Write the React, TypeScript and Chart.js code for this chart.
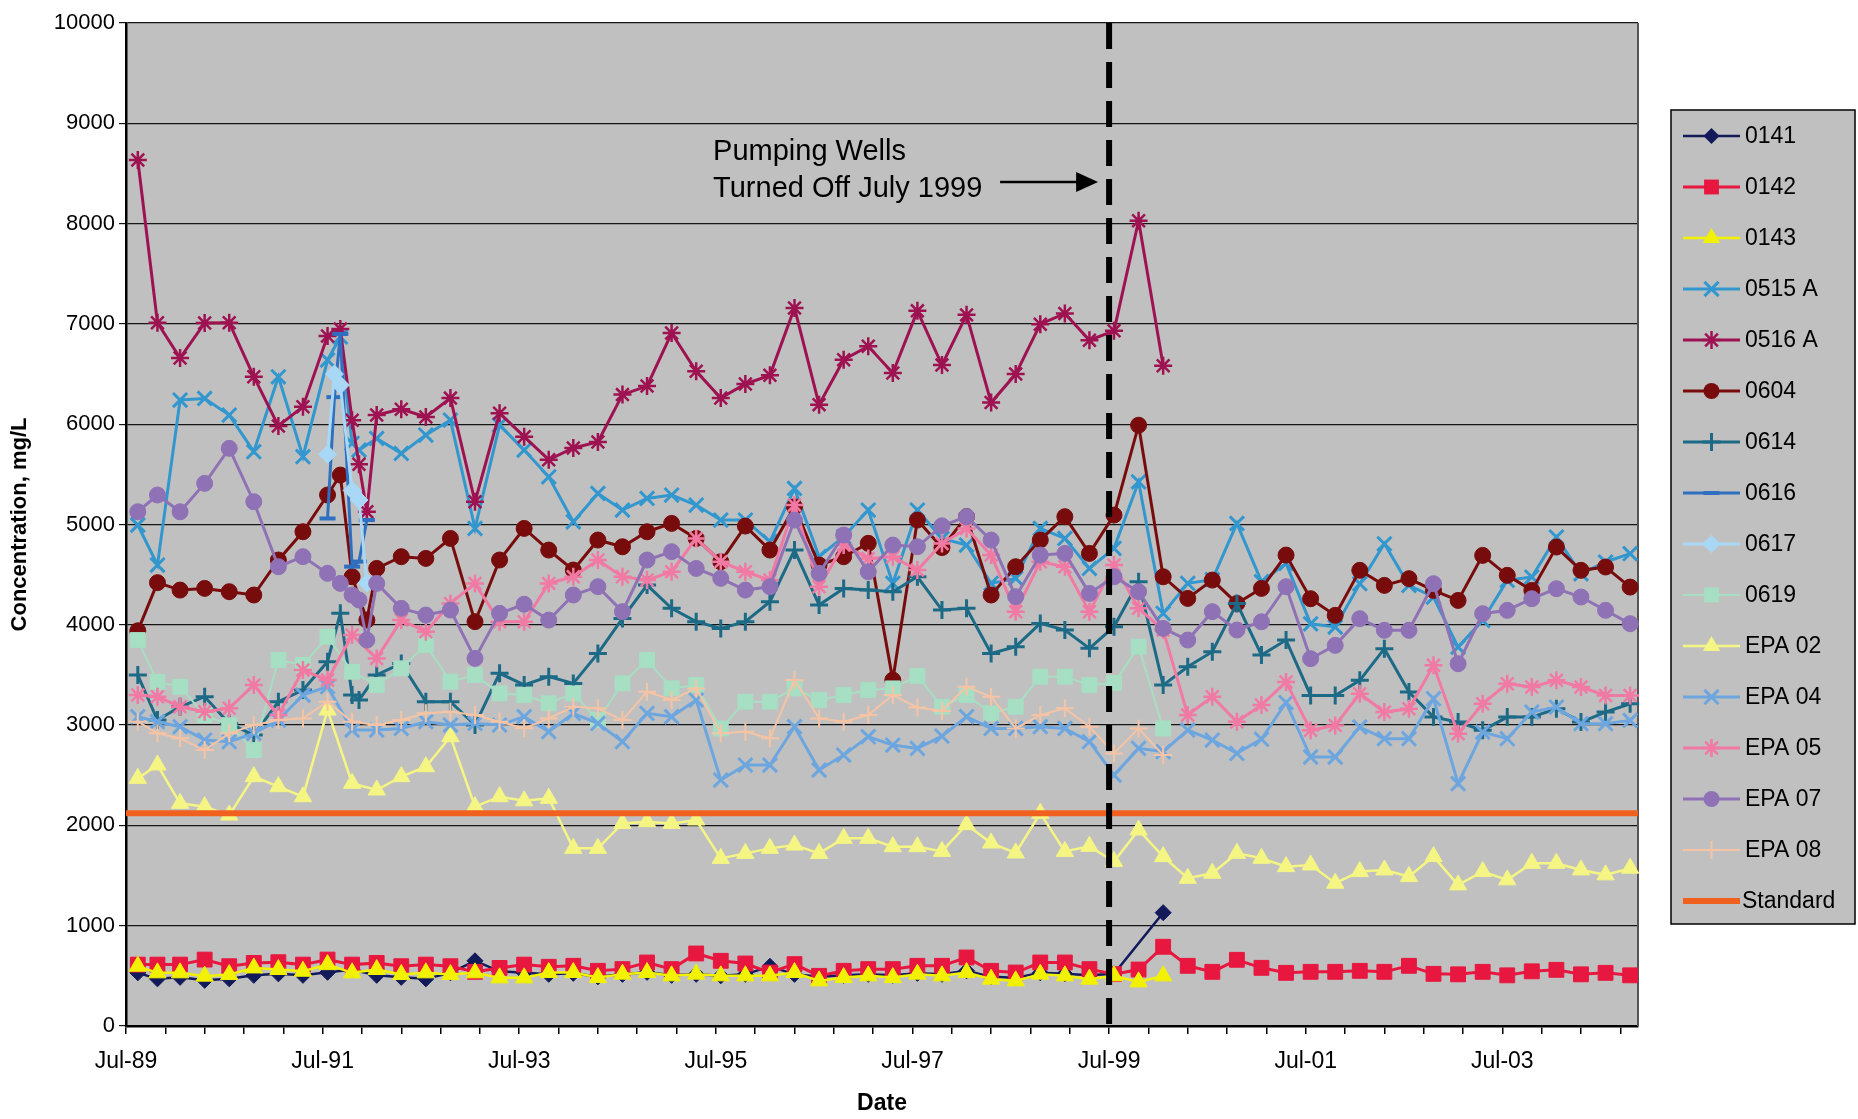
import React, { useEffect, useRef } from 'react';
import { Chart, registerables } from 'chart.js';

Chart.register(...registerables);

const _ = null;

// Sampling dates (decimal years); extra samples in the second half of 1991.
const dates = [
  1989.62, 1989.82, 1990.05, 1990.3, 1990.55, 1990.8, 1991.05, 1991.3,
  1991.55, 1991.62, 1991.68, 1991.8, 1991.87, 1991.95,
  1992.05, 1992.3, 1992.55, 1992.8,
  1993.05, 1993.3, 1993.55, 1993.8,
  1994.05, 1994.3, 1994.55, 1994.8,
  1995.05, 1995.3, 1995.55, 1995.8,
  1996.05, 1996.3, 1996.55, 1996.8,
  1997.05, 1997.3, 1997.55, 1997.8,
  1998.05, 1998.3, 1998.55, 1998.8,
  1999.05, 1999.3, 1999.55, 1999.8,
  2000.05, 2000.3, 2000.55, 2000.8,
  2001.05, 2001.3, 2001.55, 2001.8,
  2002.05, 2002.3, 2002.55, 2002.8,
  2003.05, 2003.3, 2003.55, 2003.8,
  2004.05, 2004.3, 2004.55, 2004.8,
];

const s0141 = [
  530, 470, 485, 455, 470, 505, 520, 505,
  535, _, _, 560, _, _,
  505, 485, 470, 530,
  650, 545, 530, 515,
  525, 490, 515, 535,
  505, 515, 500, 515,
  595, 515, 490, 505,
  515, 505, 525, 515,
  550, 490, 480, 530,
  520, 505, 520, _,
  1130, _, _, _,
  _, _, _, _,
  _, _, _, _,
  _, _, _, _,
  _, _, _, _,
];

const s0142 = [
  612, 612, 612, 662, 596, 629, 636, 612,
  662, _, _, 612, _, _,
  629, 596, 612, 596,
  540, 579, 612, 590,
  600, 550, 567, 633,
  567, 723, 650, 623,
  533, 617, 500, 550,
  567, 567, 600, 600,
  683, 550, 533, 633,
  633, 567, 517, 563,
  790, 600, 540, 660,
  580, 530, 540, 540,
  550, 540, 600, 520,
  515, 540, 505, 545,
  560, 515, 530, 505,
];

const s0143 = [
  596, 530, 530, 497, 513, 579, 563, 546,
  612, _, _, 530, _, _,
  563, 513, 530, 513,
  530, 480, 480, 533,
  533, 483, 517, 533,
  500, 517, 500, 500,
  500, 533, 450, 483,
  500, 483, 517, 500,
  533, 467, 450, 517,
  500, 467, 500, 440,
  500, _, _, _,
  _, _, _, _,
  _, _, _, _,
  _, _, _, _,
  _, _, _, _,
];

const s0515A = [
  4995, 4596, 6241, 6257, 6091, 5726, 6473, 5676,
  6640, _, 6870, 5809, 5742, _,
  5858, 5709, 5892, 6041,
  4961, 5991, 5742, 5476,
  5027, 5310, 5144, 5260,
  5294, 5194, 5044, 5044,
  4828, 5360, 4679, 4878,
  5144, 4413, 5144, 4860,
  4795, 4413, 4463, 4961,
  4861, 4562, 4762, 5426,
  4114, 4413, 4450, 5011,
  4430, 4612, 4010, 3978,
  4410, 4808, 4393, 4277,
  3778, 4044, 4443, 4476,
  4875, 4509, 4626, 4709,
];

const s0516A = [
  8634, 7012, 6660, 7009, 7012, 6474, 5982, 6175,
  6879, _, 6949, 6040, 5600, 5128,
  6092, 6150, 6072, 6260,
  5227, 6110, 5876, 5645,
  5763, 5823, 6295, 6380,
  6909, 6528, 6261, 6401,
  6487, 7159, 6195, 6643,
  6777, 6511, 7130, 6590,
  7090, 6216, 6500, 6997,
  7104, 6838, 6931, 8028,
  6582, _, _, _,
  _, _, _, _,
  _, _, _, _,
  _, _, _, _,
  _, _, _, _,
];

const s0604 = [
  3940, 4420, 4346, 4363, 4330, 4297, 4646, 4928,
  5294, _, 5493, 4479, _, 4047,
  4562, 4679, 4662, 4861,
  4031, 4646, 4961, 4745,
  4546, 4845, 4778, 4928,
  5011, 4861, 4629, 4984,
  4745, 5177, 4596, 4679,
  4812, 3449, 5044, 4770,
  5078, 4297, 4579, 4845,
  5078, 4712, 5094, 5990,
  4479, 4263, 4446, 4213,
  4363, 4695, 4260, 4094,
  4543, 4393, 4460, 4343,
  4243, 4692, 4493, 4343,
  4775, 4543, 4576, 4376,
];

const s0614 = [
  3499, 3050, 3183, 3283, 3017, 2901, 3233, 3350,
  3632, _, 4114, 3300, 3250, _,
  3500, 3615, 3233, 3233,
  3000, 3516, 3400, 3483,
  3416, 3715, 4064, 4396,
  4164, 4031, 3964, 4031,
  4230, 4745, 4197, 4363,
  4346, 4330, 4479, 4147,
  4164, 3715, 3782, 4014,
  3948, 3765, 3981, 4430,
  3399, 3582, 3732, 4213,
  3699, 3848, 3296, 3296,
  3446, 3762, 3330, 3080,
  3030, 2948, 3080, 3080,
  3163, 3030, 3130, 3213,
];

const s0616 = [
  _, _, _, _, _, _, _, _,
  5060, 6270, 6900, 4580, 4630, 5045,
  _, _, _, _, _, _, _, _, _, _, _, _, _, _, _, _, _, _, _, _, _, _, _, _, _, _,
  _, _, _, _, _, _, _, _, _, _, _, _, _, _, _, _, _, _, _, _, _, _, _, _, _, _,
];

const s0617 = [
  _, _, _, _, _, _, _, _,
  5700, 6500, 6390, 5340, 5244, 4417,
  _, _, _, _, _, _, _, _, _, _, _, _, _, _, _, _, _, _, _, _, _, _, _, _, _, _,
  _, _, _, _, _, _, _, _, _, _, _, _, _, _, _, _, _, _, _, _, _, _, _, _, _, _,
];

const s0619 = [
  3848, 3430, 3383, 3100, 3000, 2751, 3649, 3600,
  3881, _, _, 3532, _, _,
  3400, 3566, 3800, 3433,
  3499, 3316, 3300, 3217,
  3316, 3050, 3416, 3649,
  3366, 3400, 2967, 3233,
  3233, 3366, 3250, 3300,
  3350, 3366, 3490, 3183,
  3300, 3117, 3183, 3483,
  3483, 3400, 3420, 3782,
  2967, _, _, _,
  _, _, _, _,
  _, _, _, _,
  _, _, _, _,
  _, _, _, _,
];

const sEPA02 = [
  2469, 2602, 2220, 2187, 2103, 2486, 2386, 2286,
  3150, _, _, 2419, _, _,
  2353, 2486, 2585, 2884,
  2187, 2286, 2245, 2270,
  1771, 1771, 2020, 2037,
  2020, 2054, 1671, 1721,
  1771, 1804, 1721, 1871,
  1871, 1788, 1788, 1741,
  2007, 1824, 1725, 2120,
  1741, 1791, 1640, 1954,
  1689, 1473, 1523, 1722,
  1672, 1589, 1606, 1424,
  1540, 1556, 1490, 1689,
  1407, 1540, 1457, 1622,
  1622, 1556, 1507, 1573,
];

const sEPA04 = [
  3084, 3034, 2984, 2851, 2835, 2918, 3050, 3300,
  3383, _, _, 2951, _, _,
  2951, 2967, 3034, 3000,
  3017, 3000, 3084, 2934,
  3117, 3017, 2835, 3117,
  3084, 3250, 2452, 2602,
  2602, 2984, 2552, 2701,
  2884, 2801, 2768, 2890,
  3084, 2967, 2967, 2984,
  2967, 2835, 2502, 2768,
  2735, 2951, 2851, 2718,
  2860, 3225, 2682, 2682,
  2981, 2865, 2865, 3263,
  2416, 2931, 2865, 3130,
  3180, 3014, 3014, 3047,
];

const sEPA05 = [
  3300, 3283, 3183, 3133, 3167, 3400, 3100, 3549,
  3449, _, _, 3898, _, _,
  3665, 4047, 3931, 4213,
  4413, 4031, 4031, 4413,
  4479, 4646, 4479, 4446,
  4529, 4861, 4629, 4529,
  4446, 5194, 4380, 4795,
  4662, 4679, 4546, 4810,
  4961, 4695, 4131, 4629,
  4579, 4131, 4596, 4164,
  3948, 3100, 3283, 3034,
  3200, 3430, 2948, 2997,
  3313, 3130, 3163, 3596,
  2914, 3213, 3413, 3380,
  3446, 3380, 3296, 3296,
];

const sEPA07 = [
  5127, 5294, 5127, 5410, 5759, 5227, 4579, 4679,
  4513, _, 4413, 4297, 4247, 3848,
  4413, 4164, 4097, 4147,
  3665, 4114, 4205, 4047,
  4297, 4380, 4131, 4646,
  4729, 4562, 4463, 4346,
  4380, 5044, 4513, 4895,
  4529, 4795, 4778, 4987,
  5078, 4845, 4280, 4695,
  4712, 4313, 4479, 4330,
  3964, 3848, 4131, 3948,
  4030, 4380, 3662, 3795,
  4061, 3945, 3945, 4410,
  3612, 4111, 4144, 4260,
  4360, 4277, 4144, 4011,
];

const sEPA08 = [
  3034, 2918, 2868, 2751, 2918, 3000, 3050, 3067,
  3233, _, _, 3034, _, _,
  3000, 3050, 3117, 3133,
  3100, 3034, 2968, 3067,
  3183, 3167, 3050, 3333,
  3250, 3366, 2918, 2934,
  2868, 3449, 3067, 3034,
  3100, 3300, 3175, 3140,
  3383, 3283, 2967, 3100,
  3167, 2984, 2718, 2967,
  2701, _, _, _,
  _, _, _, _,
  _, _, _, _,
  _, _, _, _,
  _, _, _, _,
];

const standardLevel = 2120;

const X_MIN = 1989.5;
const X_MAX = 2004.88;
const majorTickYears = [1989.5, 1991.5, 1993.5, 1995.5, 1997.5, 1999.5, 2001.5, 2003.5];
const majorTickLabels = ['Jul-89', 'Jul-91', 'Jul-93', 'Jul-95', 'Jul-97', 'Jul-99', 'Jul-01', 'Jul-03'];
const wellsOffDate = 1999.5;
const annotationLines = ['Pumping Wells', 'Turned Off July 1999'];

const FONT = "'Liberation Sans', Arial, Helvetica, sans-serif";
const PLOT_BG = '#C0C0C0';

type Series = {
  label: string;
  values: (number | null)[];
  color: string;
  pointStyle: string;
  radius: number;
  lineWidth: number;
  markerWidth: number;
};

const series: Series[] = [
  { label: '0141', values: s0141, color: '#121A5A', pointStyle: 'rectRot', radius: 8, lineWidth: 2.5, markerWidth: 1 },
  { label: '0142', values: s0142, color: '#E8173F', pointStyle: 'rect', radius: 10.5, lineWidth: 3, markerWidth: 1 },
  { label: '0143', values: s0143, color: '#F2F200', pointStyle: 'triangle', radius: 10, lineWidth: 2.5, markerWidth: 1 },
  { label: '0515 A', values: s0515A, color: '#3297CE', pointStyle: 'crossRot', radius: 10, lineWidth: 3, markerWidth: 3 },
  { label: '0516 A', values: s0516A, color: '#9E1251', pointStyle: 'star', radius: 9, lineWidth: 3, markerWidth: 2.5 },
  { label: '0604', values: s0604, color: '#780C0C', pointStyle: 'circle', radius: 8, lineWidth: 3, markerWidth: 1 },
  { label: '0614', values: s0614, color: '#1C6A86', pointStyle: 'cross', radius: 9, lineWidth: 3, markerWidth: 3 },
  { label: '0616', values: s0616, color: '#2E6FC0', pointStyle: 'line', radius: 8, lineWidth: 3, markerWidth: 4 },
  { label: '0617', values: s0617, color: '#A8D8F5', pointStyle: 'rectRot', radius: 9, lineWidth: 3, markerWidth: 1 },
  { label: '0619', values: s0619, color: '#A6DFC3', pointStyle: 'rect', radius: 10.5, lineWidth: 2, markerWidth: 1 },
  { label: 'EPA 02', values: sEPA02, color: '#F5F584', pointStyle: 'triangle', radius: 10, lineWidth: 2.5, markerWidth: 1 },
  { label: 'EPA 04', values: sEPA04, color: '#6DA6DF', pointStyle: 'crossRot', radius: 10, lineWidth: 3, markerWidth: 3 },
  { label: 'EPA 05', values: sEPA05, color: '#F07AA3', pointStyle: 'star', radius: 9, lineWidth: 3, markerWidth: 2.5 },
  { label: 'EPA 07', values: sEPA07, color: '#8F72B5', pointStyle: 'circle', radius: 8, lineWidth: 3, markerWidth: 1 },
  { label: 'EPA 08', values: sEPA08, color: '#F6C4A4', pointStyle: 'cross', radius: 9, lineWidth: 2, markerWidth: 2 },
];
const standardStyle = { label: 'Standard', color: '#F0601E', lineWidth: 6 };

// legend box layout
const LEG = { x: 1671, y: 110, w: 184, h: 814, firstY: 136, step: 51, lineX0: 1683, lineX1: 1740, textX: 1745 };

function drawMarker(ctx: CanvasRenderingContext2D, style: string, x: number, y: number, r: number, color: string, lw: number) {
  ctx.save();
  ctx.fillStyle = color;
  ctx.strokeStyle = color;
  ctx.lineWidth = lw;
  ctx.beginPath();
  const d = r * Math.SQRT1_2;
  switch (style) {
    case 'circle':
      ctx.arc(x, y, r, 0, Math.PI * 2);
      ctx.fill();
      break;
    case 'rect':
      ctx.rect(x - d, y - d, 2 * d, 2 * d);
      ctx.fill();
      break;
    case 'rectRot':
      ctx.moveTo(x, y - r);
      ctx.lineTo(x + r, y);
      ctx.lineTo(x, y + r);
      ctx.lineTo(x - r, y);
      ctx.closePath();
      ctx.fill();
      break;
    case 'triangle': {
      let a = 0;
      ctx.moveTo(x + Math.sin(a) * r, y - Math.cos(a) * r);
      a += (2 * Math.PI) / 3;
      ctx.lineTo(x + Math.sin(a) * r, y - Math.cos(a) * r);
      a += (2 * Math.PI) / 3;
      ctx.lineTo(x + Math.sin(a) * r, y - Math.cos(a) * r);
      ctx.closePath();
      ctx.fill();
      break;
    }
    case 'cross':
      ctx.moveTo(x - r, y); ctx.lineTo(x + r, y);
      ctx.moveTo(x, y - r); ctx.lineTo(x, y + r);
      ctx.stroke();
      break;
    case 'crossRot':
      ctx.moveTo(x - d, y - d); ctx.lineTo(x + d, y + d);
      ctx.moveTo(x - d, y + d); ctx.lineTo(x + d, y - d);
      ctx.stroke();
      break;
    case 'star':
      ctx.moveTo(x - r, y); ctx.lineTo(x + r, y);
      ctx.moveTo(x, y - r); ctx.lineTo(x, y + r);
      ctx.moveTo(x - d, y - d); ctx.lineTo(x + d, y + d);
      ctx.moveTo(x - d, y + d); ctx.lineTo(x + d, y - d);
      ctx.stroke();
      break;
    case 'line':
      ctx.moveTo(x - r, y); ctx.lineTo(x + r, y);
      ctx.stroke();
      break;
    default:
      break;
  }
  ctx.restore();
}

const backgroundPlugin = {
  id: 'plotBackground',
  beforeDraw(chart: any) {
    const { ctx, chartArea: a } = chart;
    ctx.save();
    ctx.fillStyle = '#ffffff';
    ctx.fillRect(0, 0, chart.width, chart.height);
    ctx.fillStyle = PLOT_BG;
    ctx.fillRect(a.left, a.top, a.right - a.left, a.bottom - a.top);
    ctx.restore();
  },
  beforeDatasetsDraw(chart: any) {
    const { ctx, chartArea: a } = chart;
    ctx.save();
    ctx.strokeStyle = '#555555';
    ctx.lineWidth = 2;
    ctx.beginPath();
    ctx.moveTo(a.right, a.top);
    ctx.lineTo(a.right, a.bottom);
    ctx.stroke();
    ctx.restore();
  },
};

const annotationPlugin = {
  id: 'wellsOff',
  afterDatasetsDraw(chart: any) {
    const { ctx, chartArea: a, scales } = chart;
    const x = scales.x.getPixelForValue(wellsOffDate);
    ctx.save();
    ctx.strokeStyle = '#000';
    ctx.lineWidth = 6;
    ctx.setLineDash([26, 13]);
    ctx.beginPath();
    ctx.moveTo(x, a.top);
    ctx.lineTo(x, a.bottom);
    ctx.stroke();
    ctx.setLineDash([]);

    ctx.fillStyle = '#000';
    ctx.font = `29px ${FONT}`;
    ctx.textAlign = 'left';
    ctx.textBaseline = 'alphabetic';
    const tx = x - 396;
    ctx.fillText(annotationLines[0], tx, a.top + 137);
    ctx.fillText(annotationLines[1], tx, a.top + 174);

    const ay = a.top + 159;
    const tip = x - 11;
    ctx.lineWidth = 2.5;
    ctx.beginPath();
    ctx.moveTo(x - 109, ay);
    ctx.lineTo(tip - 18, ay);
    ctx.stroke();
    ctx.beginPath();
    ctx.moveTo(tip, ay);
    ctx.lineTo(tip - 22, ay - 10);
    ctx.lineTo(tip - 22, ay + 10);
    ctx.closePath();
    ctx.fill();
    ctx.restore();
  },
};

const legendPlugin = {
  id: 'boxLegend',
  afterDraw(chart: any) {
    const { ctx } = chart;
    ctx.save();
    ctx.fillStyle = PLOT_BG;
    ctx.fillRect(LEG.x, LEG.y, LEG.w, LEG.h);
    ctx.strokeStyle = '#000';
    ctx.lineWidth = 1.5;
    ctx.strokeRect(LEG.x, LEG.y, LEG.w, LEG.h);
    ctx.font = `23px ${FONT}`;
    ctx.textAlign = 'left';
    ctx.textBaseline = 'middle';
    const mid = (LEG.lineX0 + LEG.lineX1) / 2;
    series.forEach((s, i) => {
      const cy = LEG.firstY + i * LEG.step;
      ctx.strokeStyle = s.color;
      ctx.lineWidth = s.lineWidth;
      ctx.beginPath();
      ctx.moveTo(LEG.lineX0, cy);
      ctx.lineTo(LEG.lineX1, cy);
      ctx.stroke();
      drawMarker(ctx, s.pointStyle, mid, cy, s.radius, s.color, s.markerWidth);
      ctx.fillStyle = '#000';
      ctx.fillText(s.label, LEG.textX, cy + 1);
    });
    const cy = LEG.firstY + series.length * LEG.step;
    ctx.strokeStyle = standardStyle.color;
    ctx.lineWidth = standardStyle.lineWidth;
    ctx.beginPath();
    ctx.moveTo(LEG.lineX0, cy);
    ctx.lineTo(LEG.lineX1, cy);
    ctx.stroke();
    ctx.fillStyle = '#000';
    ctx.fillText(standardStyle.label, LEG.textX - 3, cy + 1);
    ctx.restore();
  },
};

export default function App() {
  const canvasRef = useRef<HTMLCanvasElement | null>(null);

  useEffect(() => {
    if (!canvasRef.current) return;
    const n = series.length;
    const datasets: any[] = series.map((s, i) => ({
      label: s.label,
      data: dates
        .map((d, j) => ({ x: d, y: s.values[j] }))
        .filter((p) => p.y !== null && p.y !== undefined),
      borderColor: s.color,
      backgroundColor: s.color,
      borderWidth: s.lineWidth,
      pointStyle: s.pointStyle,
      pointRadius: s.radius,
      pointHoverRadius: s.radius,
      pointBorderWidth: s.markerWidth,
      pointBackgroundColor: s.color,
      pointBorderColor: s.color,
      tension: 0,
      fill: false,
      clip: false,
      order: n + 1 - i,
    }));
    datasets.push({
      label: standardStyle.label,
      data: [
        { x: X_MIN, y: standardLevel },
        { x: X_MAX, y: standardLevel },
      ],
      borderColor: standardStyle.color,
      backgroundColor: standardStyle.color,
      borderWidth: standardStyle.lineWidth,
      pointRadius: 0,
      pointHoverRadius: 0,
      fill: false,
      clip: false,
      order: 0,
    });

    const chart = new Chart(canvasRef.current, {
      type: 'line',
      data: { datasets },
      plugins: [backgroundPlugin, annotationPlugin, legendPlugin],
      options: {
        responsive: false,
        animation: false,
        events: [],
        layout: { padding: { left: 0, top: 23, right: 220, bottom: 0 } },
        plugins: {
          legend: { display: false },
          tooltip: { enabled: false },
        },
        scales: {
          x: {
            type: 'linear',
            min: X_MIN,
            max: X_MAX,
            afterBuildTicks: (scale: any) => {
              const t: any[] = [];
              for (let i = 0; X_MIN + i * 0.4 <= X_MAX + 1e-6; i++) {
                t.push({ value: Math.round((X_MIN + i * 0.4) * 100) / 100 });
              }
              scale.ticks = t;
            },
            afterFit: (scale: any) => {
              scale.height = 93;
            },
            ticks: {
              autoSkip: false,
              maxRotation: 0,
              minRotation: 0,
              padding: 14,
              color: '#000',
              font: { family: FONT, size: 23 },
              callback: (v: any) => {
                const k = majorTickYears.findIndex((m) => Math.abs(m - Number(v)) < 0.05);
                return k >= 0 ? majorTickLabels[k] : '';
              },
            },
            grid: { drawOnChartArea: false, drawTicks: true, tickLength: 8, color: '#000', lineWidth: 1.5 },
            border: { display: true, color: '#000', width: 2.5 },
            title: {
              display: true,
              text: 'Date',
              color: '#000',
              font: { family: FONT, size: 23, weight: 'bold' },
              padding: { top: 0, bottom: 2 },
            },
          },
          y: {
            min: 0,
            max: 10000,
            afterFit: (scale: any) => {
              scale.width = 126;
            },
            ticks: {
              stepSize: 1000,
              color: '#000',
              padding: 4,
              font: { family: FONT, size: 22 },
              callback: (v: any) => String(v),
            },
            grid: { color: '#151515', lineWidth: 1.2, tickLength: 7, drawTicks: true },
            border: { display: true, color: '#000', width: 2.5 },
            title: {
              display: true,
              text: 'Concentration, mg/L',
              color: '#000',
              font: { family: FONT, size: 22, weight: 'bold' },
              padding: { top: 7, bottom: 0 },
            },
          },
        },
      } as any,
    });
    return () => chart.destroy();
  }, []);

  return (
    <div style={{ position: 'absolute', left: 0, top: 0, width: 1858, height: 1119, background: '#fff' }}>
      <canvas ref={canvasRef} width={1858} height={1119} style={{ display: 'block', width: 1858, height: 1119 }} />
    </div>
  );
}
